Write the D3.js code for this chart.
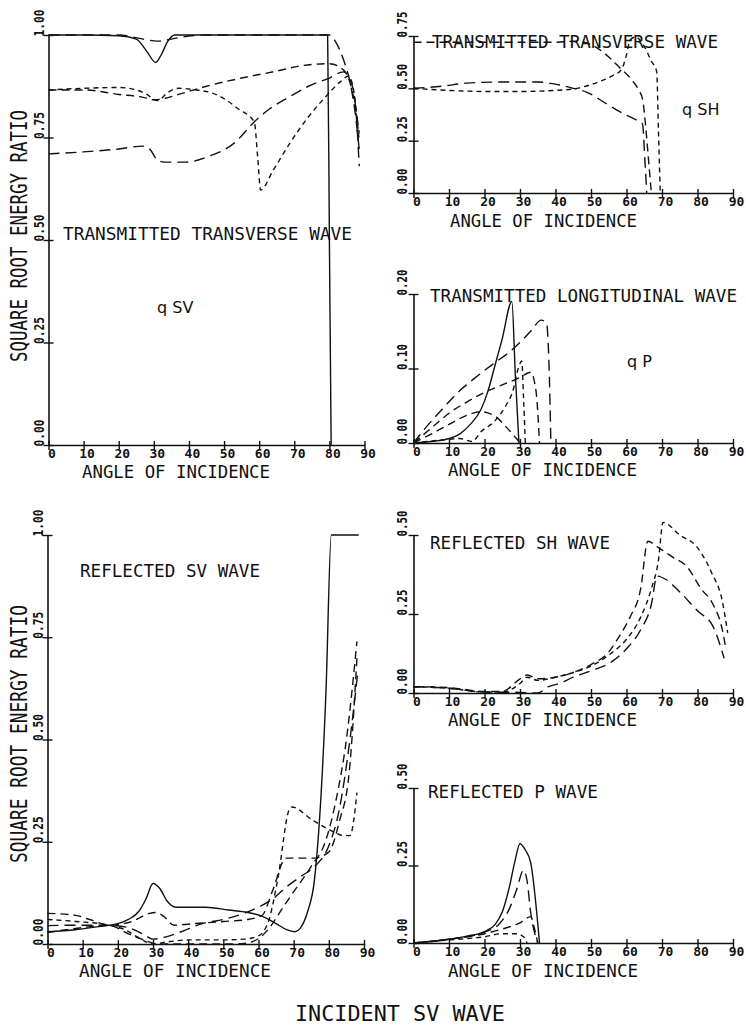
<!DOCTYPE html>
<html>
<head>
<meta charset="utf-8">
<script src="https://cdn.jsdelivr.net/npm/d3@7"></script>
<style>
body { margin: 0; background: #fff; }
</style>
</head>
<body>
<div id="chart"></div>
<script>
// ---- data (angle of incidence in degrees, square root energy ratio) ----
const xTicks = [0, 10, 20, 30, 40, 50, 60, 70, 80, 90]
const ticksOne = [0, 0.25, 0.5, 0.75, 1.0]
const ticksThreeQ = [0, 0.25, 0.5, 0.75]
const ticksFifth = [0, 0.1, 0.2]
const ticksHalf = [0, 0.25, 0.5]

// transmitted transverse wave, qSV
const tlSolid = [[0,1.0],[10,1.0],[20,0.998],[25,0.99],[28,0.96],[30.5,0.933],[32,0.95],[34,0.985],[36,1.0],[50,1.0],[70,1.0],[79.5,1.0],[80,0.5],[80.5,0]]
const tlLong = [[0,1.0],[20,1.0],[27,0.99],[31,0.985],[35,0.99],[38,0.995],[45,1.0],[70,1.0],[80,1.0],[82,0.98],[84,0.94],[86,0.88],[87.5,0.8],[88.5,0.72]]
const tlMid = [[0,0.866],[10,0.866],[20,0.855],[27,0.848],[30,0.842],[33,0.845],[37,0.855],[45,0.875],[55,0.895],[65,0.912],[72,0.925],[80,0.93],[84,0.915],[86,0.88],[87.5,0.82],[88.5,0.76]]
const tlShort = [[0,0.866],[10,0.87],[20,0.872],[25,0.866],[28,0.855],[31,0.84],[34,0.86],[37,0.87],[42,0.866],[46,0.86],[50,0.845],[54,0.82],[58.6,0.788],[59.6,0.7],[60.4,0.622],[64,0.67],[68.8,0.737],[74,0.8],[79,0.85],[83,0.885],[85.5,0.9],[87,0.86],[88.5,0.74]]
const tlMed = [[0,0.71],[10,0.715],[20,0.722],[27,0.729],[29,0.72],[31,0.695],[33,0.69],[39,0.69],[46,0.705],[52.7,0.735],[58.6,0.788],[63,0.82],[68.8,0.85],[74,0.875],[80,0.895],[84,0.91],[86,0.89],[87.5,0.82],[88.5,0.68]]

// transmitted transverse wave, qSH
const trShort = [[0,0.5],[10,0.49],[20,0.485],[30,0.485],[40,0.49],[46,0.5],[52,0.53],[56,0.56],[58.6,0.59],[60,0.66],[61,0.73],[62.5,0.745],[65,0.7],[67,0.63],[68.5,0.58],[69,0.3],[69.5,0]]
const trLong = [[0,0.5],[8,0.51],[15,0.525],[25,0.53],[35,0.53],[40,0.52],[45,0.5],[49,0.48],[54,0.43],[59,0.38],[62,0.355],[64.5,0.33],[65.2,0.15],[65.7,0]]
const trMed = [[0,0.72],[10,0.72],[20,0.72],[30,0.72],[40,0.72],[45,0.725],[48,0.72],[52,0.69],[55,0.65],[58,0.6],[61.5,0.54],[63.5,0.49],[64.5,0.45],[65.5,0.3],[66,0.2],[67,0]]

// transmitted longitudinal wave, qP
const mrSolid = [[0,0],[5,0.002],[10,0.006],[13,0.012],[16,0.025],[19,0.045],[21,0.07],[23,0.105],[25,0.14],[27.7,0.19],[28.7,0.09],[29.7,0]]
const mrLong = [[0,0],[3,0.018],[8,0.045],[13,0.07],[18,0.09],[22.7,0.107],[27,0.122],[30,0.135],[33,0.15],[36,0.165],[37.5,0.16],[38.2,0.1],[38.7,0]]
const mrMed = [[0,0],[5,0.02],[10,0.04],[15,0.055],[20,0.068],[25,0.078],[30,0.088],[33,0.095],[34.5,0.07],[35.5,0]]
const mrShort = [[0,0],[8,0.004],[13,0.006],[16.5,0.002],[19,0.015],[23,0.03],[26,0.05],[28,0.07],[29.5,0.1],[30.5,0.11],[31,0.06],[31.5,0]]
const mrArch = [[0,0],[5,0.012],[10,0.025],[15,0.037],[19,0.042],[23,0.036],[26,0.022],[29,0.006],[30,0]]

// reflected SV wave
const blSolid = [[0,0.03],[8,0.035],[14,0.042],[18,0.046],[23,0.06],[26,0.08],[28,0.11],[30,0.148],[32,0.135],[34,0.105],[36.5,0.09],[45,0.09],[51.5,0.083],[57,0.077],[61,0.068],[65,0.05],[68,0.035],[70.3,0.03],[72,0.04],[74,0.08],[75.9,0.156],[79.2,0.62],[80.7,1.0],[88.5,1.0]]
const blShort = [[0,0.06],[8,0.055],[17.5,0.046],[22,0.035],[26,0.015],[30,0.0],[34,0.005],[40,0.01],[50,0.01],[56,0.012],[60,0.02],[63,0.06],[65.5,0.16],[68.8,0.33],[69.5,0.335],[75,0.305],[80,0.28],[84.5,0.265],[86,0.265],[88,0.37]]
const blMed = [[0,0.075],[8,0.07],[12,0.06],[17.5,0.046],[24,0.055],[29,0.075],[31,0.077],[33,0.068],[36,0.046],[42,0.05],[50,0.055],[57,0.06],[61,0.07],[64,0.13],[67.8,0.21],[75.9,0.21],[80,0.225],[83,0.3],[85.8,0.42],[88,0.7]]
const blLong = [[0,0.045],[8,0.046],[17.5,0.046],[23,0.04],[27,0.025],[30,0.012],[34,0.018],[38,0.03],[44,0.05],[50,0.06],[56,0.075],[60,0.09],[64,0.11],[68,0.14],[72,0.165],[76,0.19],[80,0.24],[83,0.33],[86,0.5],[88.3,0.67]]
const blFine = [[0,0.028],[8,0.038],[17.5,0.046],[23,0.025],[28,0.008],[31,0.0],[38,0.0],[45,0.0],[54,0.0],[58,0.005],[61,0.02],[64,0.05],[67,0.09],[71,0.14],[75,0.19],[79,0.25],[82,0.35],[85,0.5],[88,0.74]]

// reflected SH wave
const shTop = [[0,0.02],[10,0.015],[20,0.003],[25,0.003],[30,0.03],[32,0.05],[35,0.04],[40,0.05],[45,0.065],[50,0.085],[55,0.12],[60,0.17],[64,0.24],[67,0.33],[69,0.42],[70.3,0.54],[75,0.5],[80,0.46],[84,0.38],[87,0.29],[88.5,0.19]]
const shMid = [[0,0.02],[10,0.017],[20,0.005],[25,0.005],[30,0.045],[32,0.057],[35,0.045],[40,0.05],[45,0.065],[50,0.09],[55,0.13],[58,0.18],[61,0.24],[64,0.33],[66,0.48],[69,0.46],[73,0.43],[77,0.4],[81,0.33],[84.4,0.28],[87,0.2],[88,0.14]]
const shLow = [[0,0.02],[10,0.015],[20,0.003],[30,0.002],[35,0.0],[38,0.02],[41,0.03],[45,0.05],[50,0.07],[56,0.1],[60,0.14],[64,0.2],[67,0.28],[68.6,0.37],[71,0.36],[75,0.32],[80,0.26],[84.4,0.21],[87.5,0.11]]

// reflected P wave
const pSolid = [[0,0],[5,0.005],[10,0.012],[15,0.022],[20,0.037],[23,0.06],[25,0.1],[27,0.18],[28.5,0.26],[30,0.32],[31.5,0.3],[33,0.26],[35.5,0]]
const pLong = [[0,0],[5,0.005],[10,0.012],[15,0.02],[20,0.035],[24,0.06],[27,0.11],[29,0.17],[31,0.235],[32,0.2],[33,0.1],[35,0]]
const pMed = [[0,0],[10,0.012],[15,0.02],[20,0.03],[25,0.045],[30,0.065],[33,0.085],[34,0.05],[35,0]]
const pShort = [[0,0],[10,0.01],[20,0.02],[25,0.03],[29,0.03],[31,0.02],[32,0]]

// ---- drawing ----
const WIDTH = 746
const HEIGHT = 1028
const MONO = "'DejaVu Sans Mono', monospace"
const DASH = { solid: null, long: "11,6", med: "8,5", short: "5,4" }

const svg = d3.select("#chart").append("svg")
	.attr("width", WIDTH)
	.attr("height", HEIGHT)
	.style("background", "#fff")

const panels = [
	{ x0: 48.5, x90: 364.5, yBot: 445, yTop: 35, yMax: 1, yTicks: ticksOne, big: true,
		curves: [[tlSolid, "solid"], [tlLong, "long"], [tlMid, "med"], [tlShort, "short"], [tlMed, "long"]],
		title: { text: "TRANSMITTED TRANSVERSE WAVE", x: 63, y: 240, len: 289, size: 18 },
		tag: { text: "q SV", x: 157, y: 313 },
		xLabel: { x: 82, y: 478, len: 188 },
		yLabel: { cy: 236, len: 252 } },
	{ x0: 413.5, x90: 733, yBot: 193, yTop: 36, yMax: 0.75, yTicks: ticksThreeQ,
		curves: [[trShort, "short"], [trLong, "long"], [trMed, "med"]],
		title: { text: "TRANSMITTED TRANSVERSE WAVE", x: 432, y: 48, len: 286, size: 17 },
		tag: { text: "q SH", x: 682, y: 115 },
		xLabel: { x: 450, y: 227, len: 187 } },
	{ x0: 413.5, x90: 733, yBot: 443, yTop: 294, yMax: 0.2, yTicks: ticksFifth,
		curves: [[mrSolid, "solid"], [mrLong, "long"], [mrMed, "med"], [mrShort, "short"], [mrArch, "med"]],
		title: { text: "TRANSMITTED LONGITUDINAL WAVE", x: 430, y: 302, len: 307, size: 17 },
		tag: { text: "q P", x: 627, y: 367 },
		xLabel: { x: 448, y: 476, len: 189 } },
	{ x0: 47.5, x90: 364, yBot: 944, yTop: 535, yMax: 1, yTicks: ticksOne, big: true,
		curves: [[blSolid, "solid"], [blShort, "short"], [blMed, "med"], [blLong, "long"], [blFine, "med"]],
		title: { text: "REFLECTED SV WAVE", x: 80, y: 577, len: 180, size: 18 },
		xLabel: { x: 79, y: 977, len: 192 },
		yLabel: { cy: 734, len: 258 } },
	{ x0: 413.5, x90: 733, yBot: 693, yTop: 535, yMax: 0.5, yTicks: ticksHalf,
		curves: [[shTop, "short"], [shMid, "med"], [shLow, "long"]],
		title: { text: "REFLECTED SH WAVE", x: 430, y: 549, len: 180, size: 17 },
		xLabel: { x: 448, y: 726, len: 189 } },
	{ x0: 413.5, x90: 733, yBot: 943, yTop: 788, yMax: 0.5, yTicks: ticksHalf,
		curves: [[pSolid, "solid"], [pLong, "long"], [pMed, "med"], [pShort, "short"]],
		title: { text: "REFLECTED P WAVE", x: 428, y: 798, len: 170, size: 17 },
		xLabel: { x: 448, y: 977, len: 190 } }
]

panels.forEach(drawPanel)

// caption
svg.append("text")
	.attr("x", 400)
	.attr("y", 1021)
	.attr("text-anchor", "middle")
	.attr("font-family", MONO)
	.attr("font-size", 21)
	.attr("textLength", 210)
	.attr("lengthAdjust", "spacingAndGlyphs")
	.attr("fill", "#111")
	.text("INCIDENT SV WAVE")

function drawPanel(p) {
	const x = d3.scaleLinear().domain([0, 90]).range([p.x0, p.x90])
	const y = d3.scaleLinear().domain([0, p.yMax]).range([p.yBot, p.yTop])
	const g = svg.append("g")

	// x axis, ticks crossing the line
	const xAxis = g.append("g")
		.attr("transform", `translate(0, ${p.yBot})`)
		.call(d3.axisBottom(x).tickValues(xTicks).tickSizeOuter(0))
	xAxis.select(".domain").attr("stroke", "#111").attr("stroke-width", 1.6)
	xAxis.selectAll(".tick line").attr("y1", -4).attr("y2", 5).attr("stroke", "#111").attr("stroke-width", 1.4)
	xAxis.selectAll(".tick text")
		.attr("y", 13)
		.attr("dy", null)
		.attr("dx", 3)
		.attr("font-family", MONO)
		.attr("font-weight", "bold")
		.attr("font-size", 13)
		.attr("fill", "#111")

	// y axis with rotated labels
	const yAxis = g.append("g")
		.attr("transform", `translate(${p.x0}, 0)`)
		.call(d3.axisLeft(y).tickValues(p.yTicks).tickFormat(d3.format(".2f")).tickSizeOuter(0))
	yAxis.select(".domain").attr("stroke", "#111").attr("stroke-width", 1.6)
	yAxis.selectAll(".tick line").attr("x1", -5).attr("x2", 5).attr("stroke", "#111").attr("stroke-width", 1.4)
	yAxis.selectAll(".tick text")
		.attr("x", 0)
		.attr("y", 0)
		.attr("dy", null)
		.attr("text-anchor", "start")
		.attr("transform", `translate(${p.big ? -5 : -7}, 1) rotate(-90)`)
		.attr("font-family", MONO)
		.attr("font-weight", "bold")
		.attr("font-size", 14)
		.attr("textLength", p.big ? 27 : 26)
		.attr("lengthAdjust", "spacingAndGlyphs")
		.attr("fill", "#111")

	// curves
	const line = d3.line()
		.x(d => x(d[0]))
		.y(d => y(d[1]))
		.curve(d3.curveMonotoneX)

	p.curves.forEach(([data, style]) => {
		g.append("path")
			.attr("fill", "none")
			.attr("stroke", "#111")
			.attr("stroke-width", 1.4)
			.attr("stroke-dasharray", DASH[style])
			.attr("d", line(data))
	})

	// texts
	g.append("text")
		.attr("x", p.title.x)
		.attr("y", p.title.y)
		.attr("font-family", MONO)
		.attr("font-size", p.title.size)
		.attr("textLength", p.title.len)
		.attr("lengthAdjust", "spacingAndGlyphs")
		.attr("fill", "#111")
		.text(p.title.text)

	if (p.tag) {
		g.append("text")
			.attr("x", p.tag.x)
			.attr("y", p.tag.y)
			.attr("font-family", "'DejaVu Sans', sans-serif")
			.attr("font-size", 16)
			.attr("fill", "#111")
			.text(p.tag.text)
	}

	g.append("text")
		.attr("x", p.xLabel.x)
		.attr("y", p.xLabel.y)
		.attr("font-family", MONO)
		.attr("font-size", 17.5)
		.attr("textLength", p.xLabel.len)
		.attr("lengthAdjust", "spacingAndGlyphs")
		.attr("fill", "#111")
		.text("ANGLE OF INCIDENCE")

	if (p.yLabel) {
		g.append("text")
			.attr("transform", `translate(27, ${p.yLabel.cy}) rotate(-90)`)
			.attr("text-anchor", "middle")
			.attr("font-family", MONO)
			.attr("font-size", 23)
			.attr("textLength", p.yLabel.len)
			.attr("lengthAdjust", "spacingAndGlyphs")
			.attr("fill", "#111")
			.text("SQUARE ROOT ENERGY RATIO")
	}
}
</script>
</body>
</html>
